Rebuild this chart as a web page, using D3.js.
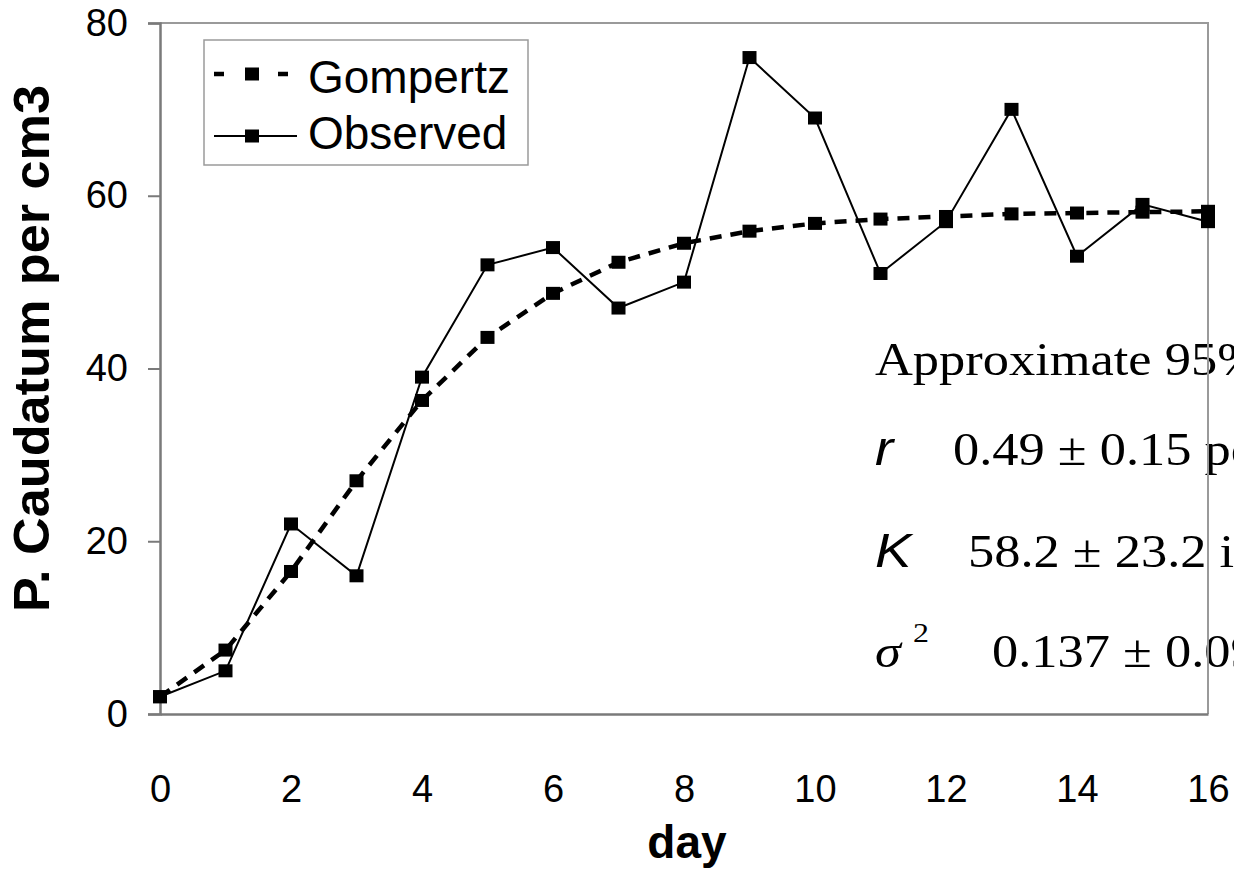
<!DOCTYPE html>
<html>
<head>
<meta charset="utf-8">
<script src="https://cdn.jsdelivr.net/npm/d3@7"></script>
<style>
  html, body { margin: 0; padding: 0; background: #fff; }
  svg { display: block; }
</style>
</head>
<body>
<svg id="chart" width="1234" height="874"></svg>
<script>
// ── Data ──────────────────────────────────────────────────────
const days = [0, 1, 2, 3, 4, 5, 6, 7, 8, 9, 10, 11, 12, 13, 14, 15, 16];
const observed = [2, 5, 22, 16, 39, 52, 54, 47, 50, 76, 69, 51, 57, 70, 53, 59, 57];
const gompertz = [2, 7.4, 16.5, 27, 36.3, 43.6, 48.7, 52.3, 54.5, 55.9, 56.8, 57.3, 57.6, 57.9, 58, 58.1, 58.2];
const xTicks = [0, 2, 4, 6, 8, 10, 12, 14, 16];
const yTicks = [0, 20, 40, 60, 80];

const plot = { left: 160, right: 1208, top: 23, bottom: 714 };
const SANS = "'Liberation Sans', Arial, Helvetica, sans-serif";
const SERIF = "'Liberation Serif', 'Times New Roman', serif";
const STRETCH = 1.14; // equation text is wider than tall in the picture

const svg = d3.select('#chart');

const x = d3.scaleLinear().domain([0, 16]).range([plot.left, plot.right]);
const y = d3.scaleLinear().domain([0, 80]).range([plot.bottom, plot.top]);

// ── Annotation text (drawn under the frame) ───────────────────
const note = svg.append('g').attr('class', 'note').attr('fill', '#000');

function noteText(px, py, str, font, size, italic) {
  return note.append('text')
    .attr('transform', `translate(${px},${py}) scale(${STRETCH},1)`)
    .attr('font-family', font)
    .attr('font-size', size)
    .attr('font-style', italic ? 'italic' : null)
    .text(str);
}

noteText(875, 375, 'Approximate 95% confidence intervals', SERIF, 46);

const params = [
  { sym: 'r', symFont: SANS, baseline: 465, valueX: 953, value: '0.49 ± 0.15 per day' },
  { sym: 'K', symFont: SANS, baseline: 567, valueX: 968, value: '58.2 ± 23.2 individuals per cm3' },
  { sym: 'σ', symFont: SERIF, baseline: 667, valueX: 992, value: '0.137 ± 0.094' }
];

params.forEach(p => {
  noteText(875, p.baseline, p.sym, p.symFont, p.sym === 'σ' ? 46 : 48, true);
  if (p.sym === 'σ') noteText(913, p.baseline - 25, '2', SERIF, 28);
  noteText(p.valueX, p.baseline, p.value, SERIF, 46);
});

// ── Frame (top + right) ──────────────────────────────────────
svg.append('path')
  .attr('d', `M${plot.left},${plot.top}H${plot.right}V${plot.bottom}`)
  .attr('fill', 'none')
  .attr('stroke', '#9a9a9a')
  .attr('stroke-width', 2);

// ── Axes ─────────────────────────────────────────────────────
const yAxis = svg.append('g')
  .attr('transform', `translate(${plot.left},0)`)
  .call(d3.axisLeft(y).tickValues(yTicks).tickSize(12).tickPadding(20));

const xAxis = svg.append('g')
  .attr('transform', `translate(0,${plot.bottom})`)
  .call(d3.axisBottom(x).tickValues(xTicks).tickSize(0).tickPadding(61));

[yAxis, xAxis].forEach(g => {
  g.select('.domain').attr('stroke', '#7a7a7a').attr('stroke-width', 2.5);
  g.selectAll('.tick line').attr('stroke', '#7a7a7a').attr('stroke-width', 2);
  g.selectAll('.tick text')
    .attr('font-family', SANS)
    .attr('font-size', 38)
    .attr('fill', '#000');
});

// Axis titles
svg.append('text')
  .attr('transform', `translate(49,${(85 + 612) / 2}) rotate(-90)`)
  .attr('text-anchor', 'middle')
  .attr('font-family', SANS).attr('font-weight', 'bold')
  .attr('font-size', 50)
  .attr('textLength', 527)
  .attr('lengthAdjust', 'spacingAndGlyphs')
  .text('P. Caudatum per cm3');

svg.append('text')
  .attr('x', 687).attr('y', 858)
  .attr('text-anchor', 'middle')
  .attr('font-family', SANS).attr('font-weight', 'bold')
  .attr('font-size', 46)
  .text('day');

// ── Series ───────────────────────────────────────────────────
const series = [
  { name: 'Gompertz', values: gompertz, width: 4.5, dash: '12,9' },
  { name: 'Observed', values: observed, width: 2, dash: null }
];

const line = d3.line()
  .x((d, i) => x(days[i]))
  .y(d => y(d));

const MW = 14, MH = 13;

series.forEach(s => {
  svg.append('path')
    .datum(s.values)
    .attr('fill', 'none')
    .attr('stroke', '#000')
    .attr('stroke-width', s.width)
    .attr('stroke-dasharray', s.dash)
    .attr('d', line);

  svg.append('g').selectAll('rect')
    .data(s.values)
    .join('rect')
    .attr('x', (d, i) => x(days[i]) - MW / 2)
    .attr('y', d => y(d) - MH / 2)
    .attr('width', MW)
    .attr('height', MH)
    .attr('fill', '#000');
});

// ── Legend ───────────────────────────────────────────────────
const legend = svg.append('g').attr('class', 'legend');

legend.append('rect')
  .attr('x', 204).attr('y', 40)
  .attr('width', 324).attr('height', 125)
  .attr('fill', '#fff')
  .attr('stroke', '#9a9a9a')
  .attr('stroke-width', 1.5);

const legendRows = [
  { lineY: 74, textY: 93, x1: 214, x2: 290, dash: '10,22' },
  { lineY: 136, textY: 149, x1: 214, x2: 297, dash: null }
];

series.forEach((s, i) => {
  const row = legendRows[i];
  legend.append('line')
    .attr('x1', row.x1).attr('x2', row.x2)
    .attr('y1', row.lineY).attr('y2', row.lineY)
    .attr('stroke', '#000')
    .attr('stroke-width', s.width)
    .attr('stroke-dasharray', row.dash);
  legend.append('rect')
    .attr('x', 252 - MW / 2).attr('y', row.lineY - MH / 2)
    .attr('width', MW).attr('height', MH)
    .attr('fill', '#000');
  legend.append('text')
    .attr('x', 308).attr('y', row.textY)
    .attr('font-family', SANS).attr('font-size', 46)
    .text(s.name);
});
</script>
</body>
</html>
